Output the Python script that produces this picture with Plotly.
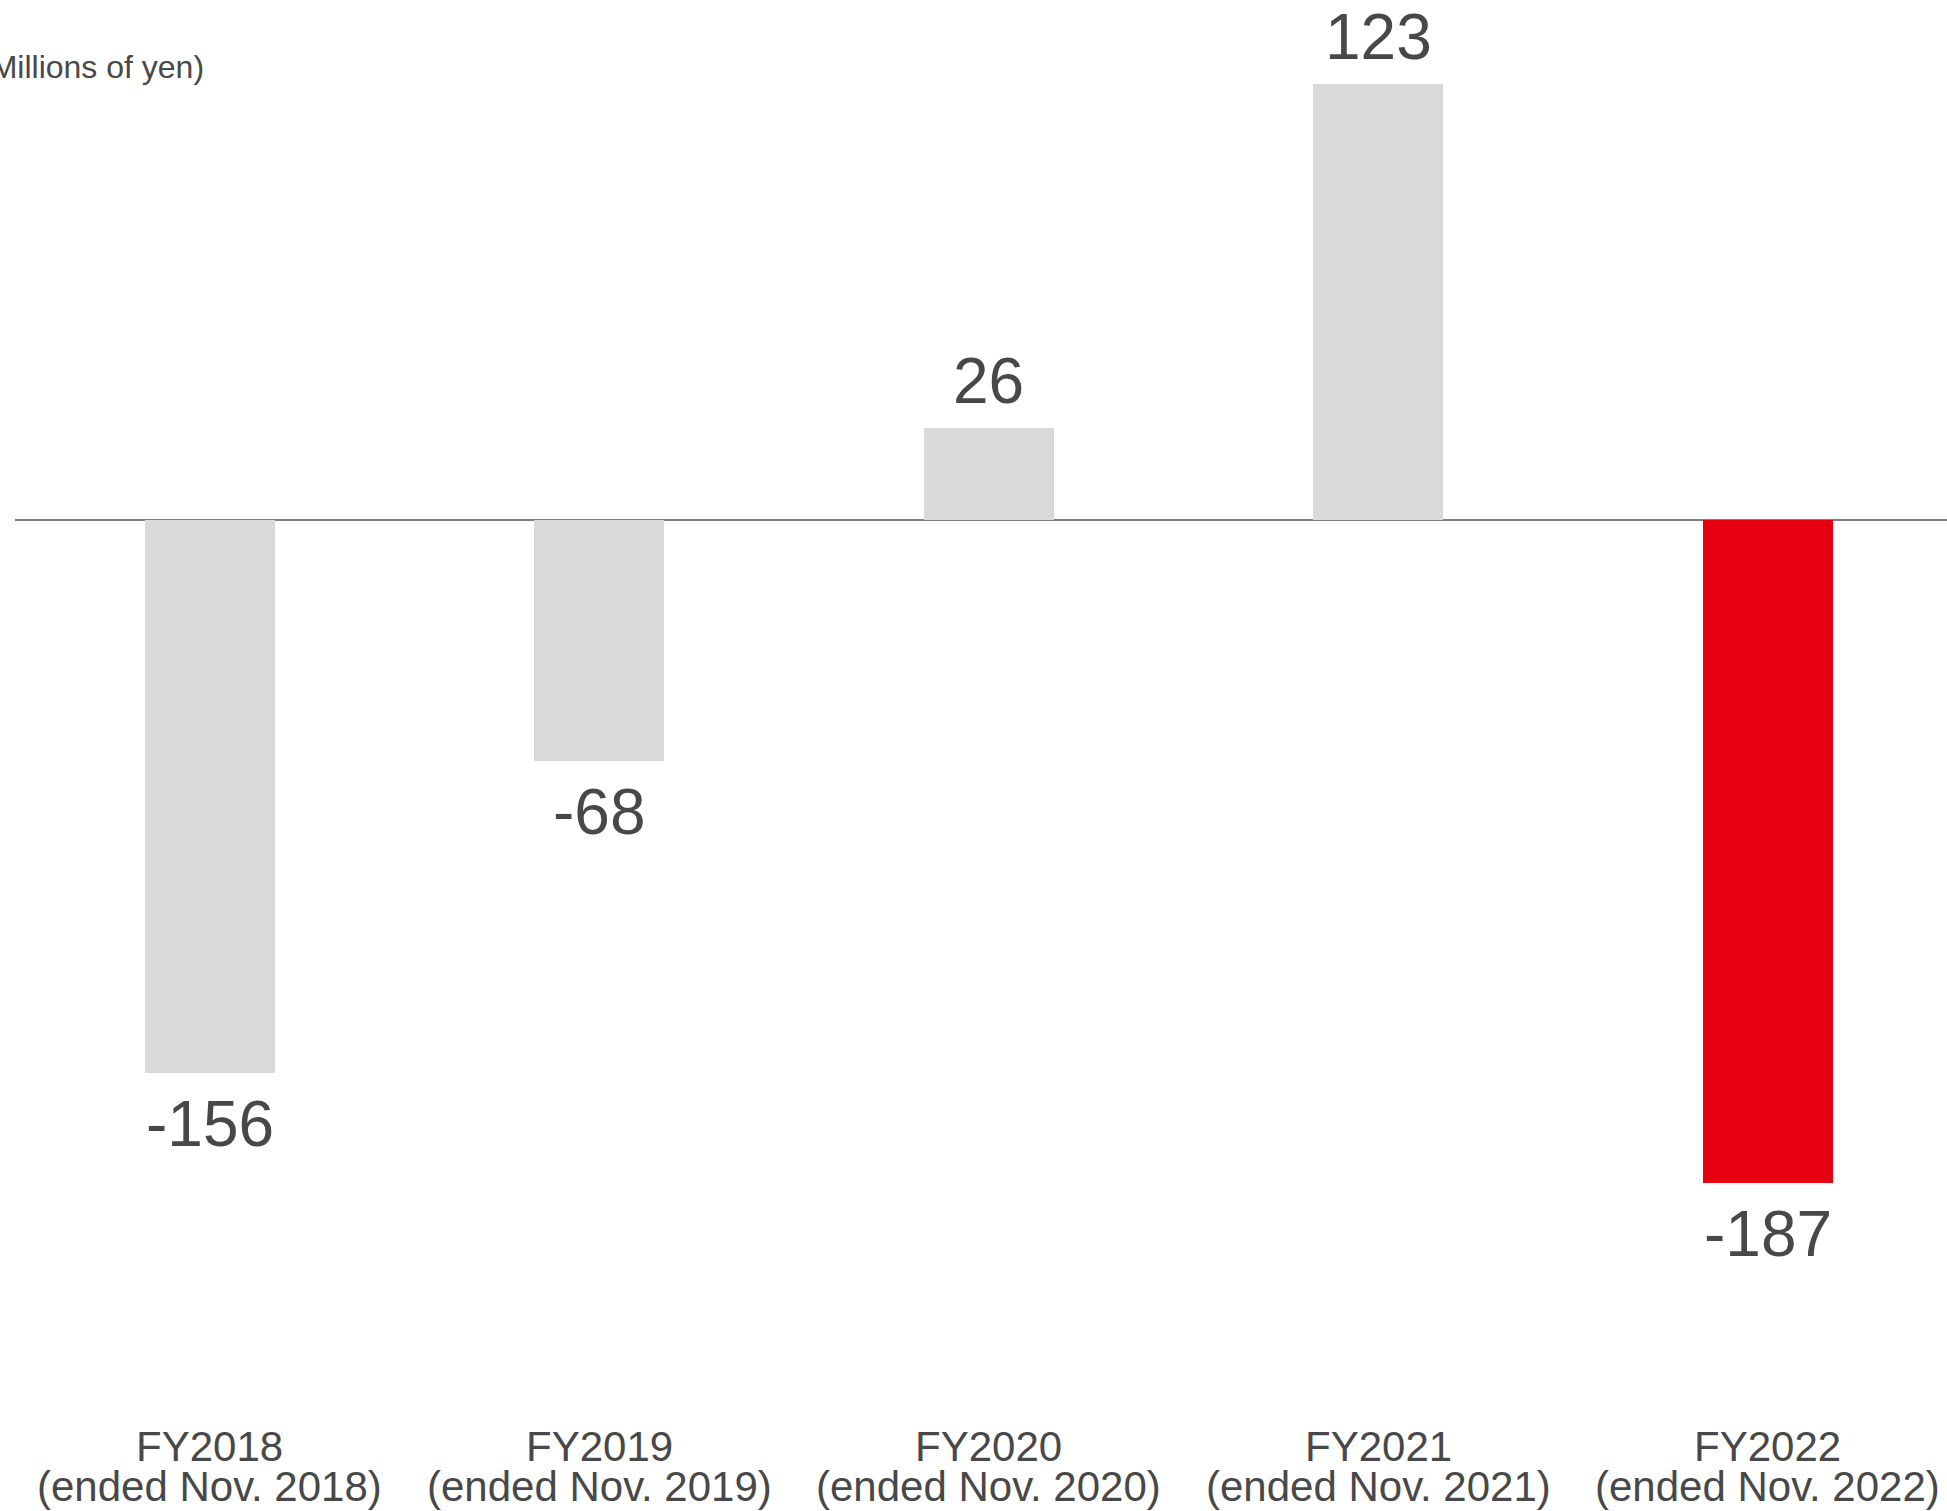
import plotly.graph_objects as go

# Operating income/loss by fiscal year (millions of yen)
fiscal_years = ["FY2018", "FY2019", "FY2020", "FY2021", "FY2022"]
period_notes = ["(ended Nov. 2018)", "(ended Nov. 2019)", "(ended Nov. 2020)",
                "(ended Nov. 2021)", "(ended Nov. 2022)"]
values = [-156, -68, 26, 123, -187]
unit_label = "(Millions of yen)"

GREY = "#d9d9d9"
RED = "#e60012"
TEXT = "#484848"
FONT = "Arial, Liberation Sans, sans-serif"

W, H = 1947, 1511
MARGIN_L = 15
colors = [RED if i == len(values) - 1 else GREY for i in range(len(values))]
x_idx = list(range(len(fiscal_years)))

fig = go.Figure(
    go.Bar(
        x=x_idx,
        y=values,
        width=0.334,
        marker=dict(color=colors, line=dict(width=0)),
        hoverinfo="skip",
    )
)

annotations = []
# value labels at the end of each bar
for i, v in enumerate(values):
    annotations.append(dict(
        x=i, y=v, xref="x", yref="y",
        text=str(v), showarrow=False,
        yanchor="bottom" if v >= 0 else "top",
        yshift=9 if v >= 0 else -13,
        font=dict(family=FONT, size=64, color=TEXT),
    ))

# two-line category labels under the chart
for i, (fy, note) in enumerate(zip(fiscal_years, period_notes)):
    annotations.append(dict(
        x=i, y=1 - 1446.8 / H, xref="x", yref="paper",
        text=fy, showarrow=False, yanchor="middle",
        font=dict(family=FONT, size=42, color=TEXT),
    ))
    annotations.append(dict(
        x=i, y=1 - 1486.5 / H, xref="x", yref="paper",
        text=note, showarrow=False, yanchor="middle",
        font=dict(family=FONT, size=42, color=TEXT),
    ))

# unit label in the top-left corner
annotations.append(dict(
    x=(206 - MARGIN_L) / (W - MARGIN_L), y=1 - 66.6 / H,
    xref="paper", yref="paper",
    text=unit_label, showarrow=False,
    xanchor="right", yanchor="middle",
    font=dict(family=FONT, size=32, color=TEXT),
))

fig.update_layout(
    width=W, height=H,
    margin=dict(l=MARGIN_L, r=0, t=0, b=0),
    paper_bgcolor="white",
    plot_bgcolor="white",
    showlegend=False,
    bargap=0,
    annotations=annotations,
    xaxis=dict(range=[-0.5, 4.4596], showticklabels=False, showgrid=False,
               zeroline=False, showline=False, ticks="", fixedrange=True),
    yaxis=dict(range=[-279.7, 146.77], showticklabels=False, showgrid=False,
               zeroline=True, zerolinecolor="#7f7f7f", zerolinewidth=2,
               showline=False, ticks="", fixedrange=True),
)

fig.write_html("out.html", config={"displayModeBar": False})
